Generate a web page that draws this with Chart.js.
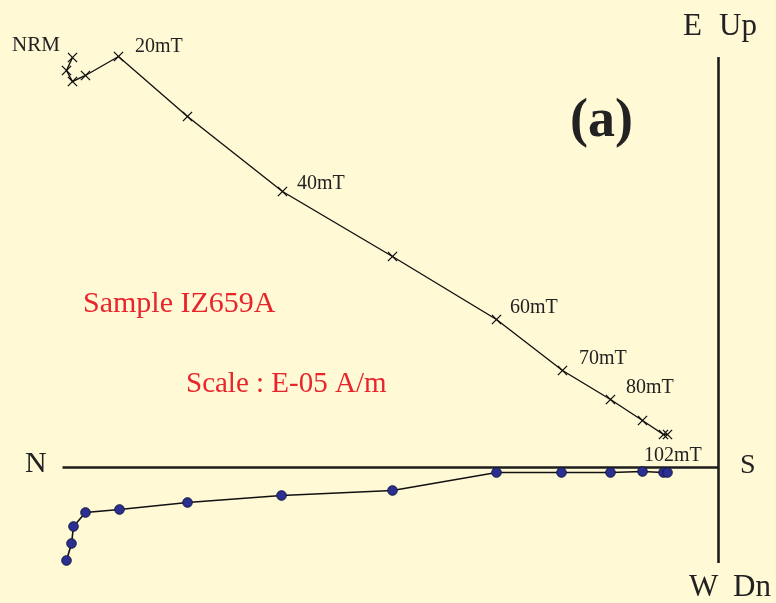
<!DOCTYPE html>
<html>
<head>
<meta charset="utf-8">
<title>Zijderveld diagram - Sample IZ659A</title>
<script src="https://cdn.jsdelivr.net/npm/chart.js@4.4.1/dist/chart.umd.min.js"></script>
<style>
    html, body { margin: 0; padding: 0; background: #FFF9D6; }
    #wrap { width: 776px; height: 603px; }
</style>
</head>
<body>
<div id="wrap"><canvas id="zijderveld" width="776" height="603"></canvas></div>
<script>
'use strict';

// demag steps, values in E-05 A/m
var steps = ['NRM', '', '', '', '20mT', '', '40mT', '', '60mT', '70mT', '80mT', '', '', '102mT'];

// vertical projection (crosses): N-S component vs Up-Dn
var vertX = [-64.6, -65.2, -64.6, -63.3, -60.0, -53.1, -43.6, -32.6, -22.2, -15.6, -10.8, -7.6, -5.5, -5.1];
var vertY = [41.0, 39.7, 38.6, 39.2, 41.1, 35.1, 27.6, 21.1, 14.8, 9.7, 6.8, 4.7, 3.3, 3.3];

// horizontal projection (dots): N-S component vs E-W
var horzX = [-65.2, -64.7, -64.5, -63.3, -59.9, -53.1, -43.7, -32.6, -22.2, -15.7, -10.8, -7.6, -5.5, -5.1];
var horzY = [-9.3, -7.6, -5.9, -4.5, -4.2, -3.5, -2.8, -2.3, -0.5, -0.5, -0.5, -0.4, -0.5, -0.5];

// axis extents
var axisNS = [-65.6, 0];
var axisUD = [-9.55, 41.05];

function toPoints(xs, ys) {
    return xs.map(function(x, i) { return { x: x, y: ys[i] }; });
}

var serif = '"Liberation Serif", "Times New Roman", serif';

var textItems = [
    { text: 'NRM', x: 12, y: 51, font: '21px ' + serif, color: '#222' },
    { text: '20mT', x: 135, y: 52, font: '20px ' + serif, color: '#222' },
    { text: '40mT', x: 297, y: 189, font: '20px ' + serif, color: '#222' },
    { text: '60mT', x: 510, y: 313, font: '20px ' + serif, color: '#222' },
    { text: '70mT', x: 579, y: 364, font: '20px ' + serif, color: '#222' },
    { text: '80mT', x: 626, y: 393, font: '20px ' + serif, color: '#222' },
    { text: '102mT', x: 644, y: 461, font: '20px ' + serif, color: '#222' },
    { text: 'Sample IZ659A', x: 83, y: 312, font: '30px ' + serif, color: '#E8252B' },
    { text: 'Scale : E-05 A/m', x: 186, y: 392, font: '29px ' + serif, color: '#E8252B' },
    { text: '(a)', x: 570, y: 136, font: 'bold 54px ' + serif, color: '#222' },
    { text: 'N', x: 25, y: 472, font: '30px ' + serif, color: '#222' },
    { text: 'S', x: 740, y: 473, font: '28px ' + serif, color: '#222' },
    { text: 'E', x: 683, y: 35, font: '31px ' + serif, color: '#222' },
    { text: 'Up', x: 719, y: 35, font: '31px ' + serif, color: '#222' },
    { text: 'W', x: 689, y: 596, font: '31px ' + serif, color: '#222' },
    { text: 'Dn', x: 733, y: 596, font: '31px ' + serif, color: '#222' }
];

var backgroundPlugin = {
    id: 'paperBackground',
    beforeDraw: function(chart) {
        var ctx = chart.ctx;
        ctx.save();
        ctx.fillStyle = '#FFF9D6';
        ctx.fillRect(0, 0, chart.width, chart.height);
        ctx.restore();
    }
};

var axesPlugin = {
    id: 'zijAxes',
    beforeDatasetsDraw: function(chart) {
        var ctx = chart.ctx;
        var sx = chart.scales.x;
        var sy = chart.scales.y;
        ctx.save();
        ctx.strokeStyle = '#1e1e1e';
        ctx.lineWidth = 2.6;
        ctx.beginPath();
        ctx.moveTo(sx.getPixelForValue(axisNS[0]), sy.getPixelForValue(0));
        ctx.lineTo(sx.getPixelForValue(axisNS[1]) + 1.3, sy.getPixelForValue(0));
        ctx.moveTo(sx.getPixelForValue(0), sy.getPixelForValue(axisUD[1]));
        ctx.lineTo(sx.getPixelForValue(0), sy.getPixelForValue(axisUD[0]));
        ctx.stroke();
        ctx.restore();
    }
};

var textPlugin = {
    id: 'zijText',
    afterDraw: function(chart) {
        var ctx = chart.ctx;
        ctx.save();
        ctx.textAlign = 'left';
        ctx.textBaseline = 'alphabetic';
        textItems.forEach(function(t) {
            ctx.font = t.font;
            ctx.fillStyle = t.color;
            ctx.fillText(t.text, t.x, t.y);
        });
        ctx.restore();
    }
};

var ctx = document.getElementById('zijderveld').getContext('2d');

var chart = new Chart(ctx, {
    type: 'scatter',
    data: {
        labels: steps,
        datasets: [
            {
                label: 'Vertical projection',
                data: toPoints(vertX, vertY),
                showLine: true,
                borderColor: '#111',
                borderWidth: 1.4,
                pointStyle: 'crossRot',
                pointRadius: 6.5,
                pointBorderColor: '#111',
                pointBorderWidth: 1.3,
                clip: false
            },
            {
                label: 'Horizontal projection',
                data: toPoints(horzX, horzY),
                showLine: true,
                borderColor: '#111',
                borderWidth: 1.6,
                pointStyle: 'circle',
                pointRadius: 4.8,
                pointBackgroundColor: '#2B2F91',
                pointBorderColor: '#15173F',
                pointBorderWidth: 1,
                clip: false
            }
        ]
    },
    options: {
        responsive: false,
        animation: false,
        devicePixelRatio: 1,
        layout: { padding: 0, autoPadding: false },
        plugins: {
            legend: { display: false },
            tooltip: { enabled: false }
        },
        scales: {
            x: { type: 'linear', display: false, min: -71.85, max: 5.75 },
            y: { type: 'linear', display: false, min: -13.55, max: 46.75 }
        }
    },
    plugins: [backgroundPlugin, axesPlugin, textPlugin]
});
</script>
</body>
</html>
